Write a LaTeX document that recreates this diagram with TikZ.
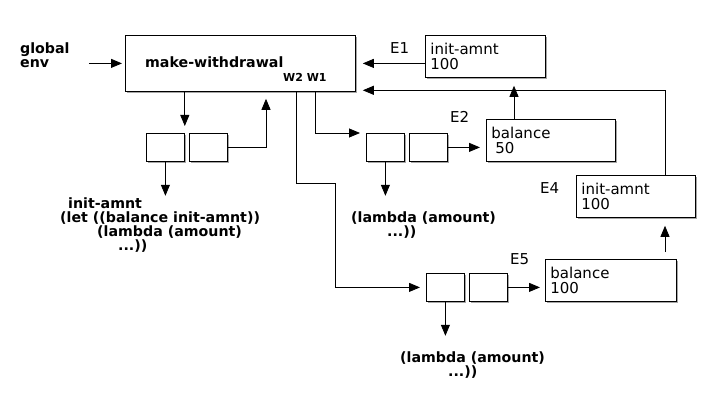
\documentclass[tikz,border=0pt]{standalone}
\usepackage{fontspec}
\setmainfont{DejaVu Sans}
\usetikzlibrary{arrows.meta,positioning,shadows}

\tikzset{
  boxshadow/.style={drop shadow={shadow xshift=1.5pt,shadow yshift=-1.5pt,fill=black!35,opacity=1}},
  envbox/.style={draw,fill=white,line width=0.8pt,inner xsep=5pt,inner ysep=0pt,align=left,
    font=\fontsize{15}{15}\selectfont,boxshadow},
  cell/.style={draw,fill=white,line width=0.8pt,minimum width=38pt,minimum height=28pt,
    inner sep=0pt,boxshadow},
  code/.style={font=\fontsize{14.2}{14}\selectfont\bfseries,inner sep=0pt,align=left},
  lbl/.style={font=\fontsize{15}{15}\selectfont,inner sep=0pt},
  ptr/.style={-{Triangle[length=11pt,width=9pt]},line width=0.8pt,shorten >=7pt},
}

\begin{document}
\begin{tikzpicture}[x=1pt,y=-1pt]
\useasboundingbox (0,0) rectangle (720,406);

% global frame and procedure
\node[code,anchor=north west] (global) at (20,42.5) {global\\env};
\node[envbox,minimum width=230pt,minimum height=56pt,anchor=north west] (mw) at (125,35) {};
\node[code,anchor=base west] (mwname) at (145,68) {make-withdrawal};
\node[font=\fontsize{11}{11}\selectfont\bfseries,inner sep=0pt,anchor=base west] (wlbl) at (283,82) {W2 W1};
\draw[ptr,shorten >=3pt] ([xshift=19pt]global.east |- mw.west) -- (mw.west);

% environments
\node[envbox,text width=110pt,minimum height=42pt,anchor=north west] (e1) at (425,35) {init-amnt\\100};
\node[envbox,text width=119pt,minimum height=42pt,anchor=north west] (e2) at (486,119) {balance\\\hspace*{4pt}50};
\node[envbox,text width=109pt,minimum height=42pt,anchor=north west] (e4) at (576,175) {init-amnt\\100};
\node[envbox,text width=121pt,minimum height=42pt,anchor=north west] (e5) at (545,259) {balance\\100};
\node[lbl,anchor=base west] (l1) at (390,54) {E1};
\node[lbl,anchor=base west] (l2) at (450,123) {E2};
\node[lbl,anchor=base west] (l4) at (540,194) {E4};
\node[lbl,anchor=base west] (l5) at (510,264) {E5};

% procedure objects
\node[cell,anchor=north west] (c1l) at (146,133) {};
\node[cell,right=4pt of c1l] (c1r) {};
\node[cell,anchor=north west] (c2l) at (366,133) {};
\node[cell,right=4pt of c2l] (c2r) {};
\node[cell,anchor=north west] (c3l) at (426,273) {};
\node[cell,right=4pt of c3l] (c3r) {};

% code
\node[code,anchor=north west] (t1) at (60,197.5)
  {\hspace*{8pt}init-amnt\\(let ((balance init-amnt))\\\hspace*{37pt}(lambda (amount)\\\hspace*{58pt}...))};
\node[code,anchor=north west] (t2) at (351,212) {(lambda (amount)\\\hspace*{36pt}...))};
\node[code,anchor=north west] (t3) at (400,352) {(lambda (amount)\\\hspace*{48pt}...))};

% pointers
\draw[ptr] (mw.south -| c1l.north east) -- (c1l.north east);
\draw[ptr] (c1r.east) -| (mw.south -| 266,0);
\draw[ptr,shorten >=0pt] (c1l.south) -- ++(0,34);
\draw[ptr,shorten >=0pt] (c2l.south) -- ++(0,34);
\draw[ptr,shorten >=0pt] (c3l.south) -- ++(0,34);
\draw[ptr,shorten >=6pt] (mw.south -| 315,0) |- (c2l.north west);
\draw[ptr,shorten >=6pt] (mw.south -| 296,0) -- (296,183) -- (335,183) |- (c3l.west);
\draw[ptr,shorten >=6pt] (c2r.east) -- (c2r.east -| e2.west);
\draw[ptr,shorten >=5pt] (c3r.east) -- (c3r.east -| e5.west);
\draw[ptr] (e1.west |- mw.west) -- (mw.west -| mw.east);
\draw[ptr,shorten >=8pt] (e2.north -| 514,0) -- (e1.south -| 514,0);
\draw[ptr] (e4.north -| 665,0) |- ([yshift=1.5pt]mw.south east);
\draw[ptr,shorten <=7pt,shorten >=8pt] (e5.north -| 665,0) -- (e4.south -| 665,0);
\end{tikzpicture}
\end{document}
